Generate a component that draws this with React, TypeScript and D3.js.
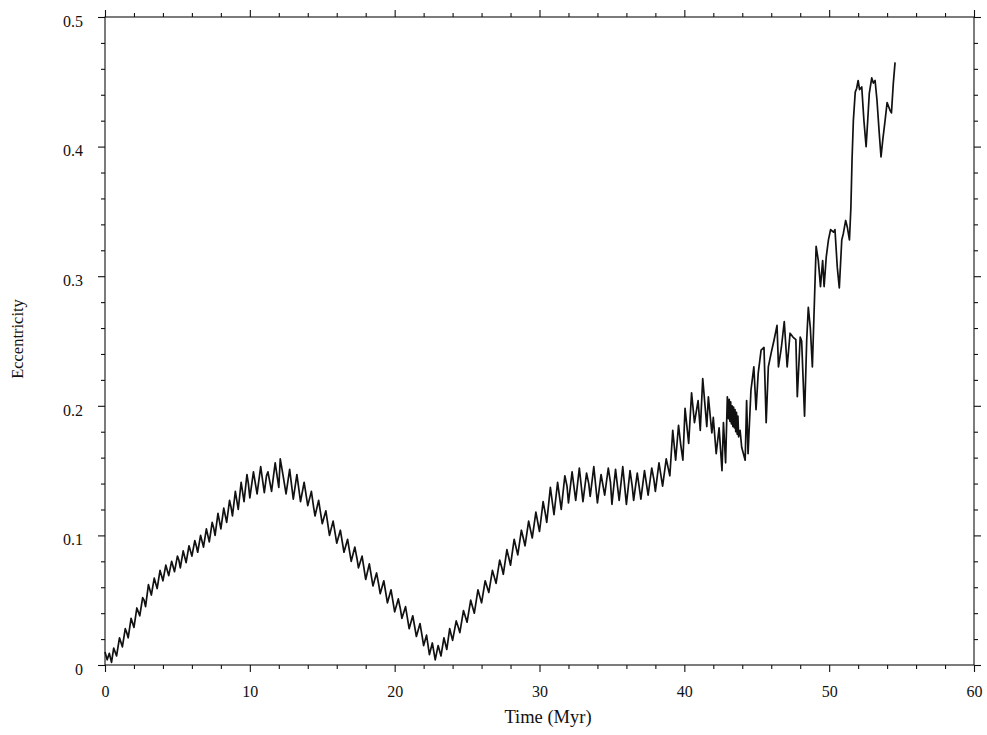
import { useEffect, useRef } from 'react';
import * as d3 from 'd3';

type Pt = [number, number];

const WIDTH = 987;
const HEIGHT = 735;
const MARGIN = { top: 17, right: 13, bottom: 70, left: 105 };

const X_MAJOR = [0, 10, 20, 30, 40, 50, 60];
const X_MINOR = [2, 4, 6, 8, 12, 14, 16, 18, 22, 24, 26, 28, 32, 34, 36, 38, 42, 44, 46, 48, 52, 54, 56, 58];
const Y_MAJOR = [0, 0.1, 0.2, 0.3, 0.4, 0.5];
const Y_MINOR = [0.02, 0.04, 0.06, 0.08, 0.12, 0.14, 0.16, 0.18, 0.22, 0.24, 0.26, 0.28, 0.32, 0.34, 0.36, 0.38, 0.42, 0.44, 0.46, 0.48];

// growth up to the first maximum (time in Myr, eccentricity)
const riseOne: Pt[] = [
  [0.0, 0.010], [0.15, 0.004], [0.3, 0.009], [0.45, 0.002], [0.6, 0.013], [0.7, 0.010], [0.8, 0.007],
  [1.0, 0.021], [1.2, 0.014], [1.4, 0.028], [1.5, 0.025], [1.6, 0.021], [1.8, 0.036], [2.0, 0.029],
  [2.2, 0.044], [2.4, 0.038], [2.6, 0.052], [2.7, 0.050], [2.8, 0.045], [3.0, 0.062], [3.2, 0.054],
  [3.4, 0.067], [3.6, 0.059], [3.8, 0.073], [3.9, 0.069], [4.0, 0.065], [4.2, 0.077], [4.4, 0.069],
  [4.6, 0.080], [4.8, 0.072], [5.0, 0.084], [5.1, 0.081], [5.2, 0.075], [5.4, 0.088], [5.6, 0.079],
  [5.8, 0.092], [6.0, 0.084], [6.2, 0.096], [6.3, 0.092], [6.4, 0.087], [6.6, 0.100], [6.8, 0.091],
  [7.0, 0.105], [7.2, 0.095], [7.4, 0.110], [7.5, 0.106], [7.6, 0.100], [7.8, 0.117], [8.0, 0.105],
  [8.2, 0.121], [8.4, 0.110], [8.6, 0.127], [8.7, 0.122], [8.8, 0.115], [9.0, 0.134], [9.2, 0.120],
  [9.4, 0.141], [9.6, 0.126], [9.8, 0.147], [9.9, 0.140], [10.0, 0.129], [10.25, 0.149], [10.5, 0.132],
  [10.75, 0.153], [11.0, 0.133], [11.15, 0.146], [11.25, 0.149], [11.5, 0.134], [11.75, 0.156], [12.0, 0.137],
  [12.1, 0.159], [12.3, 0.146], [12.5, 0.132], [12.75, 0.151], [13.0, 0.128], [13.25, 0.147], [13.5, 0.126],
];

// decline to the minimum near 22.7 Myr
const declineOne: Pt[] = [
  [13.75, 0.141], [14.0, 0.123], [14.25, 0.134], [14.4, 0.122], [14.5, 0.115], [14.75, 0.127], [15.0, 0.109],
  [15.25, 0.119], [15.5, 0.100], [15.75, 0.111], [15.9, 0.101], [16.0, 0.094], [16.25, 0.104], [16.5, 0.087],
  [16.75, 0.097], [17.0, 0.080], [17.25, 0.091], [17.4, 0.082], [17.5, 0.075], [17.75, 0.084], [18.0, 0.066],
  [18.25, 0.078], [18.5, 0.061], [18.75, 0.071], [18.9, 0.062], [19.0, 0.055], [19.25, 0.065], [19.5, 0.048],
  [19.75, 0.058], [20.0, 0.041], [20.25, 0.051], [20.4, 0.043], [20.5, 0.036], [20.75, 0.045], [21.0, 0.028],
  [21.25, 0.038], [21.5, 0.022], [21.75, 0.032], [21.9, 0.022], [22.0, 0.015], [22.2, 0.023], [22.4, 0.008],
  [22.6, 0.017], [22.8, 0.004], [23.0, 0.015], [23.2, 0.007],
];

// second rise and plateau
const riseTwo: Pt[] = [
  [23.4, 0.021], [23.6, 0.012], [23.8, 0.028], [24.0, 0.019], [24.25, 0.034], [24.4, 0.029], [24.5, 0.025],
  [24.75, 0.042], [25.0, 0.033], [25.25, 0.050], [25.5, 0.040], [25.75, 0.058], [25.9, 0.052], [26.0, 0.048],
  [26.25, 0.065], [26.5, 0.056], [26.75, 0.073], [27.0, 0.063], [27.25, 0.081], [27.4, 0.075], [27.5, 0.070],
  [27.75, 0.089], [28.0, 0.077], [28.25, 0.097], [28.5, 0.085], [28.75, 0.104], [28.9, 0.097], [29.0, 0.092],
  [29.25, 0.111], [29.5, 0.098], [29.75, 0.118], [30.0, 0.103], [30.25, 0.126], [30.4, 0.117], [30.5, 0.110],
  [30.75, 0.137], [31.0, 0.116], [31.25, 0.141], [31.5, 0.120], [31.75, 0.146], [31.9, 0.138], [32.0, 0.125],
  [32.25, 0.149], [32.5, 0.127], [32.75, 0.152], [33.0, 0.126], [33.25, 0.148], [33.4, 0.140], [33.5, 0.130],
  [33.75, 0.153], [34.0, 0.125], [34.25, 0.147], [34.5, 0.131], [34.75, 0.152], [34.9, 0.141], [35.0, 0.124],
  [35.25, 0.151], [35.5, 0.127], [35.75, 0.153], [36.0, 0.124], [36.25, 0.150], [36.4, 0.138], [36.5, 0.127],
  [36.75, 0.148], [37.0, 0.128], [37.25, 0.150], [37.5, 0.131], [37.75, 0.152], [37.9, 0.143], [38.0, 0.134],
  [38.25, 0.156], [38.5, 0.138], [38.75, 0.159], [39.0, 0.146],
];

// chaotic growth to the end of the run
const chaotic: Pt[] = [
  [39.2, 0.181], [39.4, 0.158], [39.6, 0.185], [39.75, 0.170], [39.9, 0.158], [40.05, 0.198],
  [40.3, 0.171], [40.5, 0.210], [40.7, 0.187], [40.95, 0.204], [41.1, 0.181], [41.27, 0.221],
  [41.55, 0.184], [41.66, 0.207], [41.9, 0.179], [42.0, 0.191], [42.2, 0.163], [42.4, 0.183],
  [42.6, 0.150], [42.7, 0.187], [42.85, 0.156], [42.97, 0.207], [43.05, 0.190], [43.1, 0.205],
  [43.15, 0.188], [43.2, 0.203], [43.25, 0.186], [43.3, 0.200], [43.35, 0.184], [43.4, 0.199],
  [43.45, 0.183], [43.5, 0.197], [43.55, 0.180], [43.6, 0.195], [43.65, 0.178], [43.7, 0.192],
  [43.75, 0.176], [43.85, 0.181], [43.96, 0.168], [44.2, 0.158], [44.3, 0.204], [44.4, 0.163],
  [44.6, 0.212], [44.8, 0.230], [44.95, 0.197], [45.1, 0.225], [45.3, 0.243], [45.5, 0.245],
  [45.65, 0.187], [45.8, 0.230], [46.0, 0.241], [46.2, 0.251], [46.4, 0.262], [46.5, 0.230],
  [46.7, 0.245], [46.9, 0.265], [47.1, 0.230], [47.3, 0.256], [47.5, 0.253], [47.7, 0.251],
  [47.8, 0.207], [48.0, 0.253], [48.1, 0.250], [48.3, 0.192], [48.45, 0.251], [48.56, 0.276],
  [48.7, 0.260], [48.84, 0.230], [49.0, 0.287], [49.1, 0.323], [49.25, 0.312], [49.4, 0.292],
  [49.55, 0.312], [49.65, 0.292], [49.8, 0.315], [49.95, 0.328], [50.1, 0.336], [50.3, 0.334],
  [50.4, 0.336], [50.56, 0.307], [50.7, 0.291], [50.87, 0.328], [50.98, 0.333], [51.14, 0.343],
  [51.25, 0.338], [51.4, 0.328], [51.5, 0.353], [51.58, 0.390], [51.67, 0.420], [51.8, 0.442],
  [51.9, 0.445], [52.0, 0.451], [52.1, 0.444], [52.25, 0.446], [52.4, 0.420], [52.55, 0.400],
  [52.66, 0.420], [52.77, 0.441], [52.94, 0.453], [53.05, 0.449], [53.17, 0.451], [53.3, 0.436],
  [53.46, 0.410], [53.58, 0.392], [53.7, 0.405], [53.86, 0.420], [54.0, 0.434], [54.2, 0.428],
  [54.3, 0.426], [54.43, 0.449], [54.55, 0.465],
];

const FONT = '"Liberation Serif", "Times New Roman", serif';

export default function App() {
  const svgRef = useRef<SVGSVGElement>(null);

  useEffect(() => {
    if (!svgRef.current) return;
    const W = WIDTH - MARGIN.left - MARGIN.right;
    const H = HEIGHT - MARGIN.top - MARGIN.bottom;

    const svg = d3.select(svgRef.current);
    svg.selectAll('*').remove();

    const g = svg.append('g').attr('transform', `translate(${MARGIN.left},${MARGIN.top})`);

    const x = d3.scaleLinear().domain([0, 60]).range([0, W]);
    const y = d3.scaleLinear().domain([0, 0.5]).range([H, 0]);

    const styleAxis = (sel: d3.Selection<SVGGElement, unknown, null, undefined>) => {
      sel.select('.domain').remove();
      sel.selectAll('line').attr('stroke', '#111').attr('stroke-width', 1.1);
      sel.selectAll('text').attr('font-family', FONT).attr('font-size', 16).attr('fill', '#111');
    };
    const blank = () => '';

    // bottom + top
    g.append('g').attr('transform', `translate(0,${H})`)
      .call(d3.axisBottom(x).tickValues(X_MAJOR).tickSize(7).tickPadding(14).tickFormat(d3.format('d')))
      .call(styleAxis);
    g.append('g').attr('transform', `translate(0,${H})`)
      .call(d3.axisBottom(x).tickValues(X_MINOR).tickSize(4).tickFormat(blank))
      .call(styleAxis);
    g.append('g')
      .call(d3.axisTop(x).tickValues(X_MAJOR).tickSize(7).tickFormat(blank))
      .call(styleAxis);
    g.append('g')
      .call(d3.axisTop(x).tickValues(X_MINOR).tickSize(4).tickFormat(blank))
      .call(styleAxis);

    // left + right
    const yLeft = g.append('g')
      .call(d3.axisLeft(y).tickValues(Y_MAJOR).tickSize(7).tickPadding(15)
        .tickFormat(d => (d === 0 ? '0' : d3.format('.1f')(d as number))))
      .call(styleAxis);
    yLeft.selectAll('text').attr('dy', '0.58em');
    g.append('g')
      .call(d3.axisLeft(y).tickValues(Y_MINOR).tickSize(4).tickFormat(blank))
      .call(styleAxis);
    g.append('g').attr('transform', `translate(${W},0)`)
      .call(d3.axisRight(y).tickValues(Y_MAJOR).tickSize(7).tickFormat(blank))
      .call(styleAxis);
    g.append('g').attr('transform', `translate(${W},0)`)
      .call(d3.axisRight(y).tickValues(Y_MINOR).tickSize(4).tickFormat(blank))
      .call(styleAxis);

    g.append('rect')
      .attr('x', 0).attr('y', 0).attr('width', W).attr('height', H)
      .attr('fill', 'none').attr('stroke', '#111').attr('stroke-width', 1.1);

    const series = [...riseOne, ...declineOne, ...riseTwo, ...chaotic];
    const line = d3.line<Pt>().x(d => x(d[0])).y(d => y(d[1]));
    g.append('path')
      .datum(series)
      .attr('fill', 'none')
      .attr('stroke', '#111')
      .attr('stroke-width', 1.7)
      .attr('stroke-linejoin', 'round')
      .attr('d', line);

    svg.append('text')
      .attr('x', 548).attr('y', 723)
      .attr('text-anchor', 'middle')
      .attr('font-family', FONT).attr('font-size', 18.5).attr('fill', '#111')
      .text('Time (Myr)');

    svg.append('text')
      .attr('transform', `translate(23,339) rotate(-90)`)
      .attr('text-anchor', 'middle')
      .attr('font-family', FONT).attr('font-size', 16.5).attr('fill', '#111')
      .text('Eccentricity');
  }, []);

  return (
    <svg
      ref={svgRef}
      width={WIDTH}
      height={HEIGHT}
      style={{ position: 'absolute', left: 0, top: 0, background: '#fff', display: 'block' }}
    />
  );
}
